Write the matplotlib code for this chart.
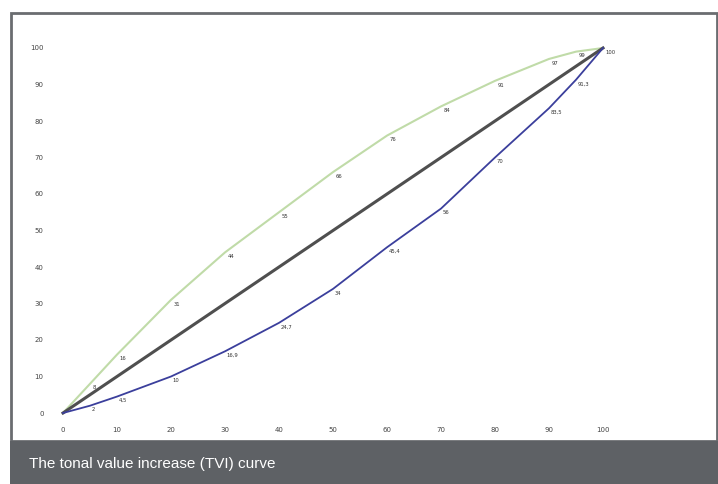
import matplotlib
matplotlib.use('Agg')
from matplotlib import pyplot as plt
from matplotlib.patches import Rectangle

# tone values (%), printed vs. reference
x_vals = [0, 5, 10, 20, 30, 40, 50, 60, 70, 80, 90, 95, 100]
green_vals = [0, 8, 16, 31, 44, 55, 66, 76, 84, 91, 97, 99, 100]
blue_vals = [0, 2, 4.5, 10, 16.9, 24.7, 34, 45.4, 56, 70, 83.5, 91.3, 100]
green_labels = ['', '8', '16', '31', '44', '55', '66', '76', '84', '91', '97', '99', '100']
blue_labels = ['', '2', '4,5', '10', '16,9', '24,7', '34', '45,4', '56', '70', '83,5', '91,3', '']
ref_vals = [0, 100]
ticks = [0, 10, 20, 30, 40, 50, 60, 70, 80, 90, 100]
caption = 'The tonal value increase (TVI) curve'

W, H = 718, 484
fig = plt.figure(figsize=(W / 100, H / 100), dpi=100)

# frame and caption band
fig.patches.append(Rectangle((11 / W, 43 / H), 706 / W, (H - 13 - 43) / H,
                             transform=fig.transFigure, fill=False,
                             edgecolor='#6a6d70', linewidth=2))
fig.patches.append(Rectangle((10 / W, 0), (W - 10) / W, 43 / H,
                             transform=fig.transFigure, facecolor='#5e6165',
                             edgecolor='none'))
fig.text(29 / W, 20 / H, caption, color='white', fontsize=11,
         family=['Liberation Sans', 'DejaVu Sans'], va='center')

ax = fig.add_axes([63 / W, (H - 413) / H, 540 / W, 365 / H])
ax.set_xlim(0, 100)
ax.set_ylim(0, 100)
for s in ax.spines.values():
    s.set_visible(False)

ax.plot(x_vals, green_vals, color='#c0dba8', lw=1.5, clip_on=False)
ax.plot(ref_vals, ref_vals, color='#4f4f4f', lw=2.2, clip_on=False)
ax.plot(x_vals, blue_vals, color='#3b3f9c', lw=1.3, clip_on=False)

for x, y, t in zip(x_vals, green_vals, green_labels):
    if t:
        ax.annotate(t, (x, y), xytext=(2, -3), textcoords='offset points',
                    fontsize=3.8, color='#333333', va='center', annotation_clip=False)
for x, y, t in zip(x_vals, blue_vals, blue_labels):
    if t:
        ax.annotate(t, (x, y), xytext=(1, -3), textcoords='offset points',
                    fontsize=3.8, color='#333333', va='center', annotation_clip=False)

ax.set_xticks(ticks)
ax.set_yticks(ticks)
ax.tick_params(length=0, labelsize=5, labelcolor='#444444', pad=14)
ax.tick_params(axis='x', pad=10)

fig.savefig('out.png', dpi=100)
